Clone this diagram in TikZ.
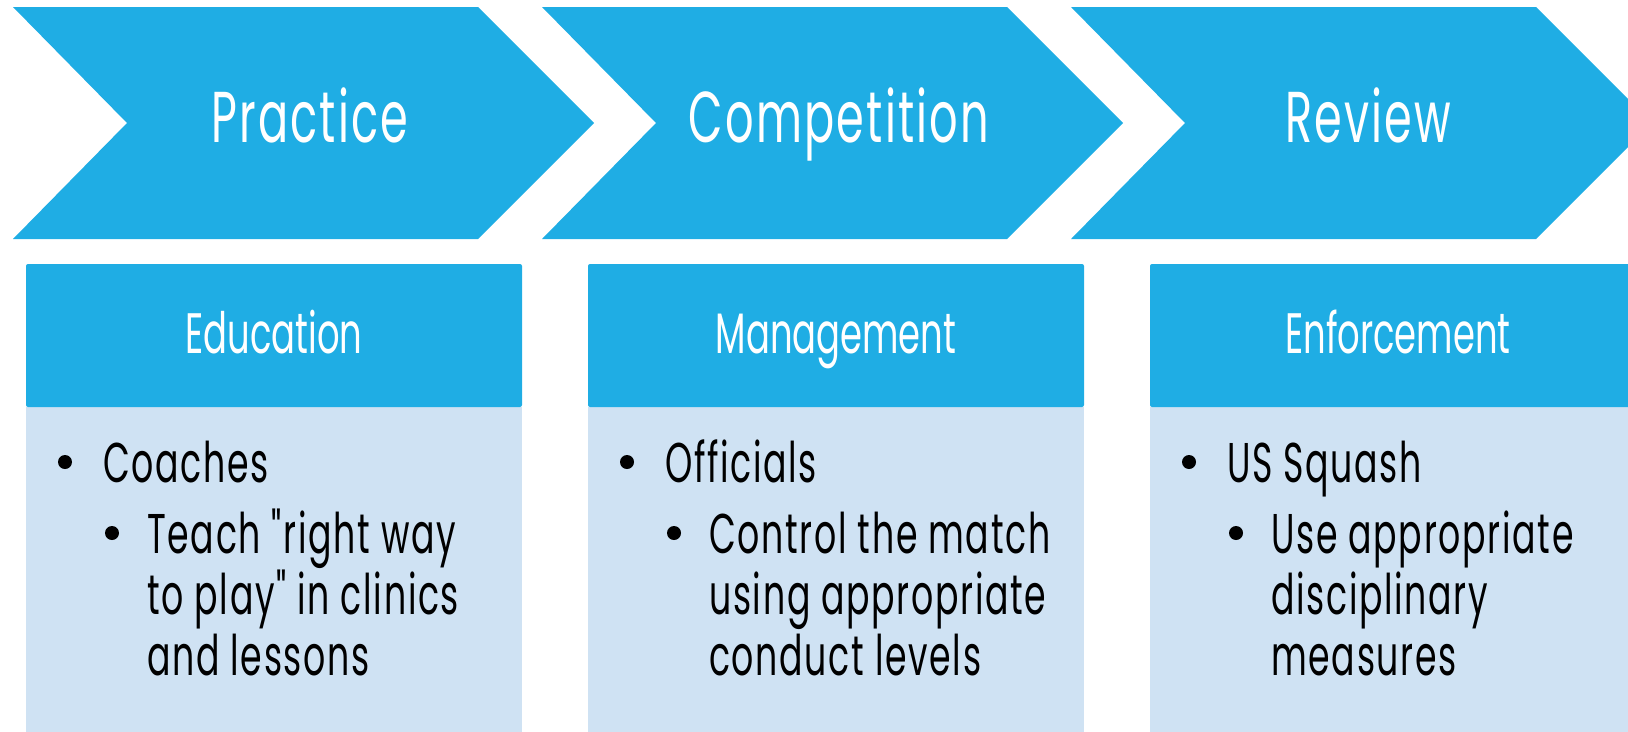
\documentclass[tikz,border=0pt]{standalone}
\usepackage{fontspec}
\setmainfont{Poppins}[FakeStretch=0.62, Ligatures=TeXOff]
\newfontfamily\spacedfont{Poppins}[FakeStretch=0.62, LetterSpace=3, Ligatures=TeXOff]
\definecolor{chev}{HTML}{1FADE4}
\definecolor{bodyfill}{HTML}{CFE2F3}
\tikzset{
  chevshape/.style={fill=chev},
  headbox/.style={fill=chev},
  bodybox/.style={fill=bodyfill},
  bigtitle/.style={anchor=base, text=white, inner sep=0pt, font=\spacedfont\fontsize{72}{80}\selectfont},
  headtitle/.style={anchor=base, text=white, inner sep=0pt, font=\fontsize{57}{62}\selectfont},
  bodyline/.style={anchor=base west, text=black, inner sep=0pt, font=\spacedfont\fontsize{56}{61}\selectfont},
  dot/.style={circle, fill=black, inner sep=0pt, minimum size=14pt}
}
\begin{document}
\begin{tikzpicture}[x=1pt,y=-1pt]
\useasboundingbox (0,0) rectangle (1628,731);
\clip (0,0) rectangle (1628,731);
% chevrons
\foreach \xl in {13,542,1071}{
  \fill[chevshape] (\xl,7) -- (\xl+465,7) -- (\xl+581,123) -- (\xl+465,239) -- (\xl,239) -- (\xl+114,123) -- cycle;
}
\node[bigtitle] (t1) at (310,142) {Practice};
\node[bigtitle] (t2) at (839,142) {Competition};
\node[bigtitle] (t3) at (1368,142) {Review};
% boxes
\foreach \bx in {26,588,1150}{
  \fill[bodybox] (\bx,407) rectangle (\bx+496,740);
  \fill[headbox, rounded corners=2pt] (\bx,407) -- (\bx,264) -- (\bx+496,264) -- (\bx+496,407) -- cycle;
}
\node[headtitle] (h1) at (274,353) {Education};
\node[headtitle] (h2) at (836,353) {Management};
\node[headtitle] (h3) at (1398,353) {Enforcement};
% box 1
\node[dot] (d1a) at (65,462) {};
\node[bodyline] (b1a) at (103,482) {Coaches};
\node[dot] (d1b) at (112,533) {};
\node[bodyline] (b1b) at (147,553) {Teach "right way};
\node[bodyline] (b1c) at (147,614) {to play" in clinics};
\node[bodyline] (b1d) at (147,675) {and lessons};
% box 2
\node[dot] (d2a) at (627,462) {};
\node[bodyline] (b2a) at (665,482) {Officials};
\node[dot] (d2b) at (674,533) {};
\node[bodyline] (b2b) at (709,553) {Control the match};
\node[bodyline] (b2c) at (709,614) {using appropriate};
\node[bodyline] (b2d) at (709,675) {conduct levels};
% box 3
\node[dot] (d3a) at (1189,462) {};
\node[bodyline] (b3a) at (1227,482) {US Squash};
\node[dot] (d3b) at (1236,533) {};
\node[bodyline] (b3b) at (1271,553) {Use appropriate};
\node[bodyline] (b3c) at (1271,614) {disciplinary};
\node[bodyline] (b3d) at (1271,675) {measures};
\end{tikzpicture}
\end{document}
